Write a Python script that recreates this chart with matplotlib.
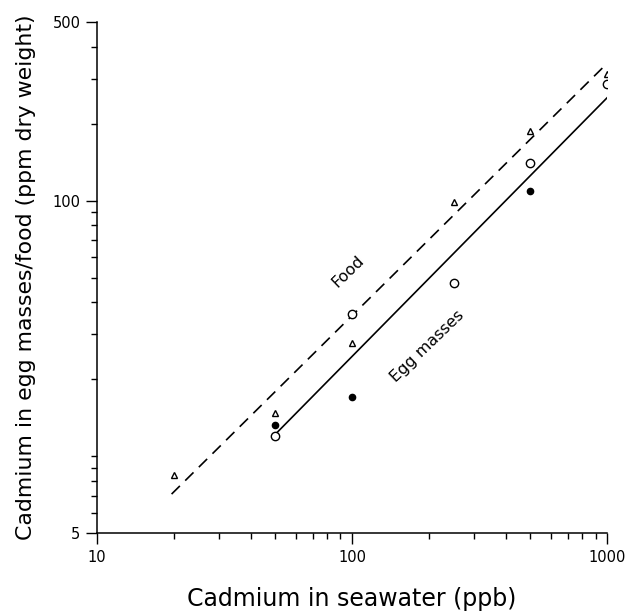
import numpy as np
import matplotlib
matplotlib.use('Agg')
import matplotlib.pyplot as plt

# values (seawater Cd in ppb, tissue Cd in ppm dry weight)
food_x = [20, 50, 100, 250, 500, 1000]
food_y = [8.4, 14.8, 27.7, 98.7, 188, 312]

egg_open_x = [50, 100, 250, 500, 1000]
egg_open_y = [12.0, 36.1, 47.5, 141, 285]

egg_filled_x = [50, 100, 500]
egg_filled_y = [13.2, 17.1, 108.8]

# fitted lines
food_fit_x = [19.6, 1000]
food_fit_y = [7.1, 345]
egg_fit_x = [50.5, 1000]
egg_fit_y = [12.3, 253]

x_major = [10, 100, 1000]
y_major = [5, 100, 500]

fig = plt.figure(figsize=(6.26, 6.13), dpi=100)
ax = fig.add_axes([0.155, 0.1305, 0.815, 0.8335])

ax.plot(food_fit_x, food_fit_y, color='black', lw=1.2, dashes=[7, 4.5])
ax.plot(egg_fit_x, egg_fit_y, color='black', lw=1.2)

ax.plot(food_x, food_y, linestyle='none', marker='^', ms=5,
        mfc='white', mec='black', mew=1.0)
ax.plot(egg_open_x, egg_open_y, linestyle='none', marker='o', ms=6,
        mfc='white', mec='black', mew=1.0)
ax.plot(egg_filled_x, egg_filled_y, linestyle='none', marker='o', ms=4.5,
        mfc='black', mec='black')

ax.set_xscale('log')
ax.set_yscale('log')
ax.set_xlim(10, 1000)
ax.set_ylim(5, 500)

ax.set_xticks(x_major)
ax.set_xticklabels([str(v) for v in x_major])
ax.set_yticks(y_major)
ax.set_yticklabels([str(v) for v in y_major])
y_minor = list(range(6, 10)) + list(range(10, 100, 10)) + list(range(200, 500, 100))
ax.set_yticks(y_minor, minor=True)
x_minor = list(range(20, 100, 10)) + list(range(200, 1000, 100))
ax.set_xticks(x_minor, minor=True)
ax.yaxis.set_minor_formatter(matplotlib.ticker.NullFormatter())
ax.xaxis.set_minor_formatter(matplotlib.ticker.NullFormatter())

for s in ['top', 'right']:
    ax.spines[s].set_visible(False)
for s in ['left', 'bottom']:
    ax.spines[s].set_linewidth(1.1)

ax.tick_params(which='major', direction='out', length=8, width=1.0,
               labelsize=10.5, pad=4)
ax.tick_params(which='minor', direction='out', length=4.5, width=1.0)

ax.set_xlabel('Cadmium in seawater (ppb)', fontsize=17, labelpad=16)
ax.set_ylabel('Cadmium in egg masses/food (ppm dry weight)', fontsize=15.8,
              labelpad=12)

ax.text(96, 52.8, 'Food', rotation=44, ha='center', va='center',
        rotation_mode='anchor', fontsize=11.5)
ax.text(197, 26.8, 'Egg masses', rotation=44, ha='center', va='center',
        rotation_mode='anchor', fontsize=11.5)

fig.savefig('out.png', dpi=100)
